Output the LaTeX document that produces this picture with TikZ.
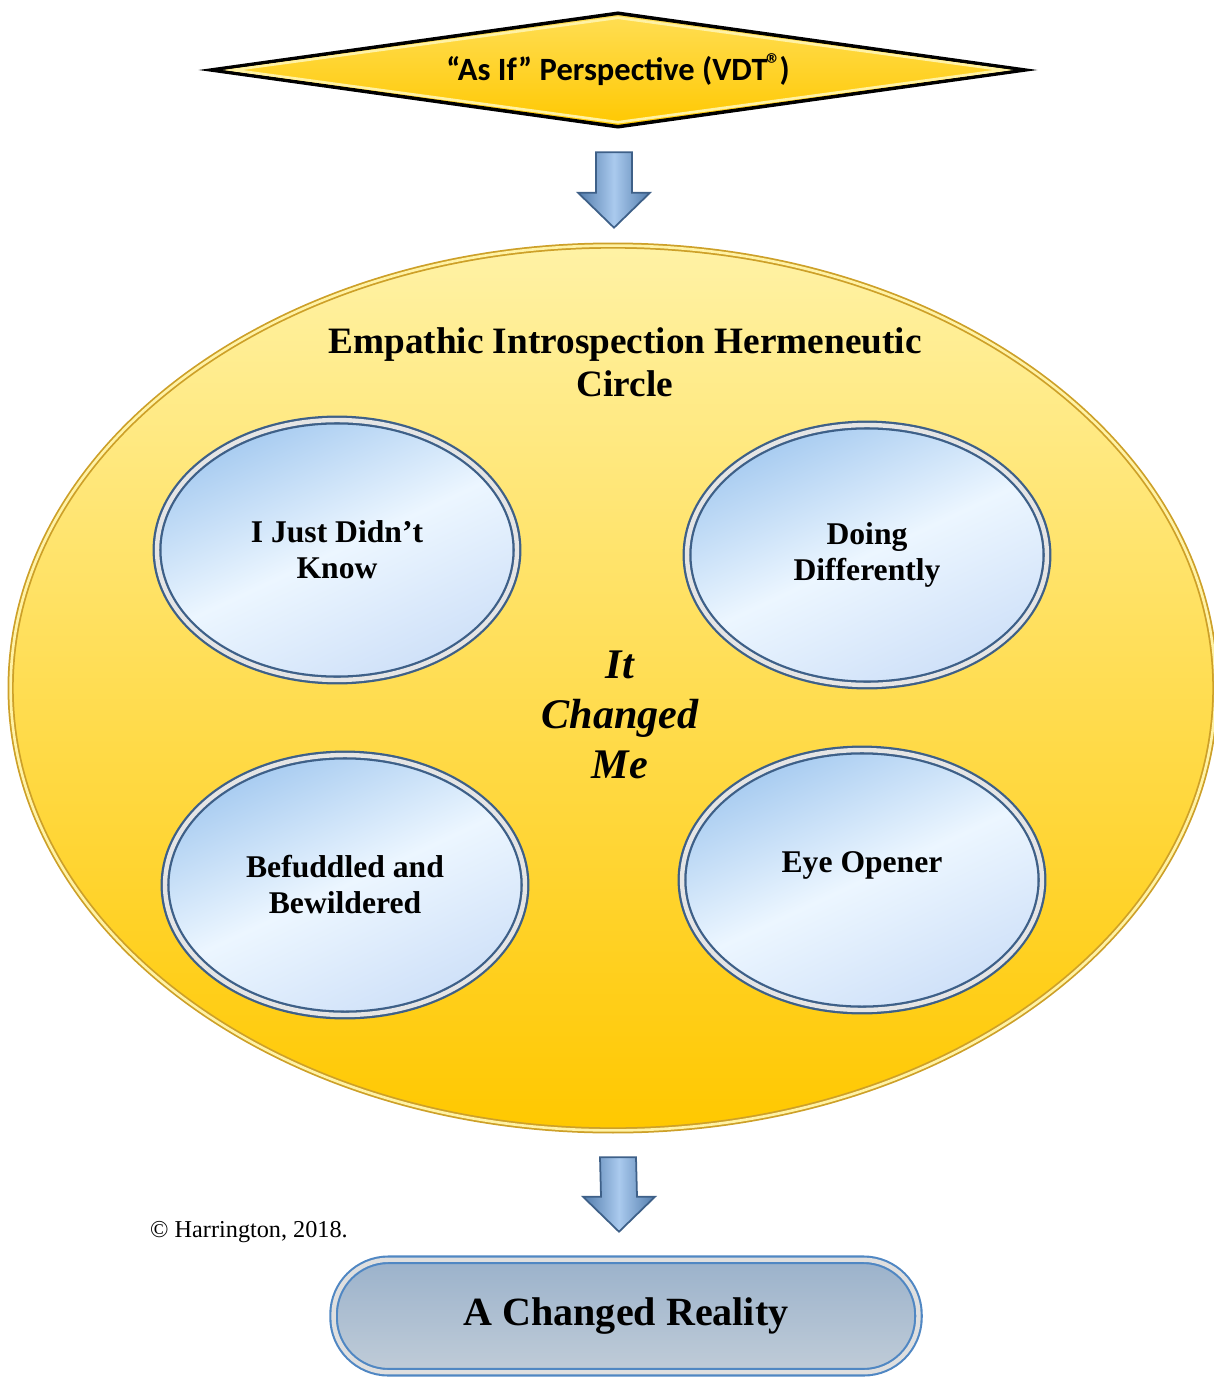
\documentclass[tikz,border=0pt]{standalone}
\usepackage{fontspec}
\setmainfont{Liberation Serif}
\newfontfamily\calibrifont{Carlito}
\definecolor{gold1}{RGB}{255, 200, 0}
\definecolor{gold2}{RGB}{255, 242, 165}
\definecolor{gold3}{RGB}{255, 222, 85}
\definecolor{goldline}{RGB}{205, 160, 40}
\definecolor{sky1}{RGB}{165, 202, 240}
\definecolor{sky2}{RGB}{236, 246, 255}
\definecolor{sky3}{RGB}{206, 224, 248}
\definecolor{steel1}{RGB}{62, 96, 136}
\definecolor{steel2}{RGB}{82, 124, 172}
\definecolor{steel3}{RGB}{170, 202, 238}
\definecolor{slate1}{RGB}{155, 178, 203}
\definecolor{slate2}{RGB}{192, 204, 216}
\definecolor{rim}{RGB}{80, 135, 195}
\usepackage{tikz}
\usetikzlibrary{shapes, calc, positioning}

\tikzset{
  bubble/.style={ellipse, draw=steel1, line width=1.3pt, double=gray!20, double distance=2.5pt,
    top color=sky1, bottom color=sky3, middle color=sky2, shading angle=25,
    minimum width=7.2cm, minimum height=5.2cm, align=center,
    font=\fontsize{18}{20.5}\selectfont\bfseries},
  blockarrow/.style={draw=steel1, line width=1pt, left color=steel2, right color=steel2, middle color=steel3}
}
\newcommand{\blockdown}[2]{%
  \path[blockarrow] ($(#1)+(-18,0)$) -- ($(#1)+(18,0)$) -- ($(#2)+(18,-35)$) -- ($(#2)+(36,-35)$)
    -- (#2) -- ($(#2)+(-36,-35)$) -- ($(#2)+(-18,-35)$) -- cycle;}

\begin{document}
\begin{tikzpicture}[x=0.02cm, y=-0.02cm]
  \useasboundingbox (0,0) rectangle (1213,1378);

  \node[ellipse, draw=goldline, line width=1pt, double=gold2, double distance=1.5pt,
    top color=gold2, middle color=gold3, bottom color=gold1,
    minimum width=24.1cm, minimum height=17.7cm] (hermeneutic) at (613,688) {};

  \node[diamond, aspect=6.86, draw=black, line width=2pt, top color=gold3, bottom color=gold1,
    minimum width=16.3cm, minimum height=2.3cm, inner sep=0pt,
    font=\fontsize{18.5}{20}\selectfont\calibrifont\bfseries] (vdt) at (618,70)
    {“As If” Perspective (VDT\kern-0.05em{\fontsize{17}{17}\selectfont\raisebox{0.2em}{®}}\kern-0.05em)};
  \draw[gold2, line width=1.5pt] ($(vdt.north)+(0,7)$) -- ($(vdt.east)+(-24,0)$)
    -- ($(vdt.south)+(0,-7)$) -- ($(vdt.west)+(24,0)$) -- cycle;

  \node[align=center, font=\fontsize{21.2}{24.5}\selectfont\bfseries] (title) at (625,362)
    {Empathic Introspection Hermeneutic\\Circle};

  \node[bubble] (didnt) at (337,550) {I Just Didn’t\\Know};
  \node[bubble] (doing) at (867,555) {Doing\\Differently};
  \node[bubble] (befuddled) at (345,885) {Befuddled and\\Bewildered};
  \node[bubble] (opener) at (862,880) {Eye Opener\\\mbox{}};

  \node[align=center, font=\fontsize{24}{28.5}\selectfont\bfseries\itshape] (changed) at (620,715)
    {It\\Changed\\Me};

  \coordinate (a1) at ($(vdt.south)+(-4,23)$);
  \coordinate (a1tip) at ($(hermeneutic.north)+(1,-17)$);
  \blockdown{a1}{a1tip}

  \node[rectangle, rounded corners=1.1cm, draw=rim, line width=1.2pt, double=gray!25,
    double distance=2.5pt, top color=slate1, bottom color=slate2,
    minimum width=11.7cm, minimum height=2.25cm,
    font=\fontsize{22.8}{25}\selectfont\bfseries] (reality) at (626,1316) {A Changed Reality};

  \coordinate (a2) at ($(hermeneutic.south)+(5,26)$);
  \coordinate (a2tip) at ($(reality.north)+(-7,-27)$);
  \blockdown{a2}{a2tip}

  \node[font=\fontsize{13.8}{15}\selectfont] (copyright) at (249,1232) {© Harrington, 2018.};
\end{tikzpicture}
\end{document}
